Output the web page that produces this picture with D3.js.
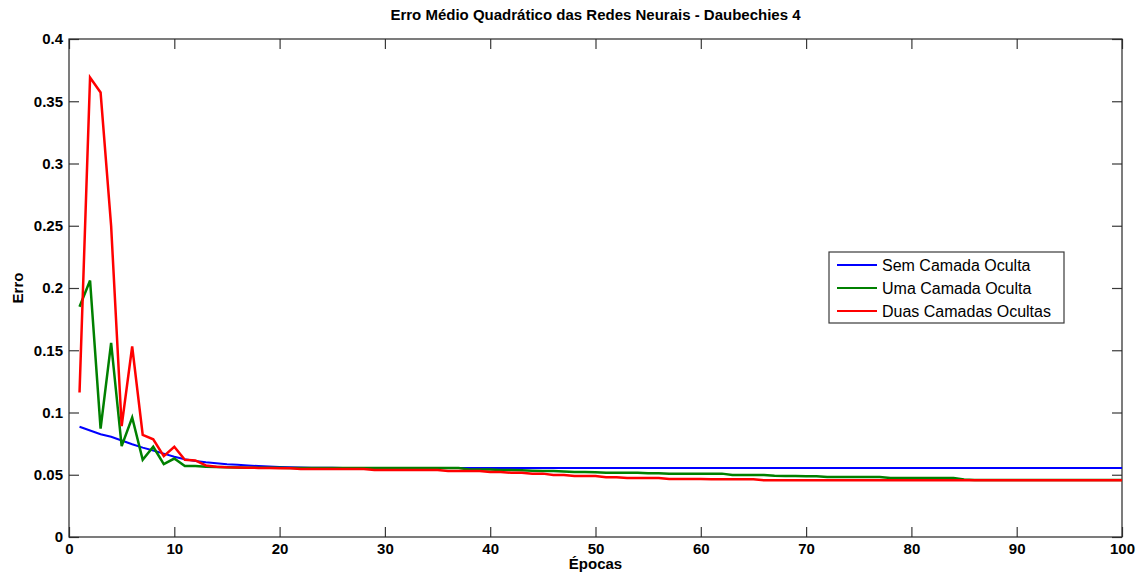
<!DOCTYPE html>
<html>
<head>
<meta charset="utf-8">
<script src="https://cdn.jsdelivr.net/npm/d3@7"></script>
<style>
  body { margin: 0; background: #fff; }
  text { font-family: "Liberation Sans", Arial, sans-serif; }
</style>
</head>
<body>
<div id="chart"></div>
<script>
// data
var epocas = d3.range(1, 101);

var semCamada = [
  0.0886, 0.0855, 0.0825, 0.0805, 0.0775, 0.0745, 0.0718, 0.0695, 0.0670, 0.0645,
  0.0625, 0.0610, 0.0600, 0.0592, 0.0585, 0.0580, 0.0575, 0.0570, 0.0566, 0.0563,
  0.0560, 0.0558, 0.0557, 0.0556, 0.0556, 0.0555, 0.0555, 0.0555, 0.0555, 0.0555,
  0.0555, 0.0555, 0.0555, 0.0555, 0.0555, 0.0555, 0.0555, 0.0555, 0.0555, 0.0555,
  0.0555, 0.0555, 0.0555, 0.0555, 0.0555, 0.0555, 0.0555, 0.0555, 0.0555, 0.0555,
  0.0555, 0.0555, 0.0555, 0.0555, 0.0555, 0.0555, 0.0555, 0.0555, 0.0555, 0.0555,
  0.0555, 0.0555, 0.0555, 0.0555, 0.0555, 0.0555, 0.0555, 0.0555, 0.0555, 0.0555,
  0.0555, 0.0555, 0.0555, 0.0555, 0.0555, 0.0555, 0.0555, 0.0555, 0.0555, 0.0555,
  0.0555, 0.0555, 0.0555, 0.0555, 0.0555, 0.0555, 0.0555, 0.0555, 0.0555, 0.0555,
  0.0555, 0.0555, 0.0555, 0.0555, 0.0555, 0.0555, 0.0555, 0.0555, 0.0555, 0.0554
];

var umaCamada = [
  0.185, 0.206, 0.087, 0.156, 0.073, 0.096, 0.062, 0.0725, 0.0585, 0.063,
  0.057, 0.057, 0.0565, 0.0562, 0.056, 0.0558, 0.0557, 0.0556, 0.0556, 0.0556,
  0.0555, 0.0555, 0.0555, 0.0555, 0.0555, 0.0555, 0.0555, 0.0555, 0.0555, 0.0555,
  0.0554, 0.0554, 0.0554, 0.0554, 0.0554, 0.0554, 0.0554, 0.0543, 0.0543, 0.0543,
  0.0538, 0.0538, 0.0536, 0.0533, 0.0530, 0.0530, 0.0526, 0.0522, 0.0522, 0.0520,
  0.0516, 0.0516, 0.0516, 0.0516, 0.0512, 0.0512, 0.0509, 0.0509, 0.0509, 0.0509,
  0.0509, 0.0509, 0.0498, 0.0498, 0.0498, 0.0498, 0.0492, 0.0490, 0.0490, 0.0487,
  0.0487, 0.0482, 0.0482, 0.0482, 0.0482, 0.0482, 0.0482, 0.0474, 0.0474, 0.0474,
  0.0474, 0.0474, 0.0474, 0.0474, 0.0462, 0.0458, 0.0457, 0.0457, 0.0457, 0.0457,
  0.0457, 0.0457, 0.0457, 0.0457, 0.0457, 0.0457, 0.0457, 0.0457, 0.0457, 0.0457
];

var duasCamadas = [
  0.116, 0.369, 0.357, 0.250, 0.089, 0.153, 0.082, 0.0785, 0.065, 0.0725,
  0.062, 0.0615, 0.0575, 0.0565, 0.056, 0.0558, 0.0556, 0.0555, 0.0554, 0.0553,
  0.0552, 0.0546, 0.0546, 0.0546, 0.0546, 0.0546, 0.0546, 0.0546, 0.0538, 0.0538,
  0.0538, 0.0538, 0.0538, 0.0538, 0.0538, 0.0530, 0.0530, 0.0530, 0.0530, 0.0522,
  0.0522, 0.0516, 0.0516, 0.0509, 0.0509, 0.0498, 0.0498, 0.0490, 0.0490, 0.0490,
  0.0480, 0.0480, 0.0474, 0.0474, 0.0474, 0.0474, 0.0466, 0.0466, 0.0466, 0.0466,
  0.0463, 0.0463, 0.0463, 0.0463, 0.0463, 0.0455, 0.0455, 0.0455, 0.0455, 0.0455,
  0.0455, 0.0455, 0.0455, 0.0455, 0.0455, 0.0455, 0.0455, 0.0455, 0.0455, 0.0455,
  0.0455, 0.0455, 0.0455, 0.0455, 0.0455, 0.0455, 0.0455, 0.0455, 0.0455, 0.0455,
  0.0455, 0.0455, 0.0455, 0.0455, 0.0455, 0.0455, 0.0455, 0.0455, 0.0455, 0.0455
];

var seriesNames = ["Sem Camada Oculta", "Uma Camada Oculta", "Duas Camadas Ocultas"];
var seriesColors = ["#0000ff", "#008000", "#ff0000"];
var xTicks = [0, 10, 20, 30, 40, 50, 60, 70, 80, 90, 100];
var yTicks = [0, 0.05, 0.1, 0.15, 0.2, 0.25, 0.3, 0.35, 0.4];

// set the dimensions and margins of the graph
var margin = {top: 39, right: 15, bottom: 41, left: 69},
    width = 1137 - margin.left - margin.right,
    height = 578 - margin.top - margin.bottom;

var svg = d3.select("#chart")
  .append("svg")
    .attr("width", width + margin.left + margin.right)
    .attr("height", height + margin.top + margin.bottom)
  .append("g")
    .attr("transform", "translate(" + margin.left + "," + margin.top + ")");

var x = d3.scaleLinear().domain([0, 100]).range([0, width]);
var y = d3.scaleLinear().domain([0, 0.4]).range([height, 0]);

// white box
svg.append("rect")
  .attr("width", width)
  .attr("height", height)
  .attr("fill", "#fff");

// axes, ticks pointing inward, mirrored on top/right
function styleAxis(g) {
  g.select(".domain").remove();
  g.selectAll(".tick line").attr("stroke", "#3a3a3a").attr("stroke-width", 1.2);
  g.selectAll(".tick text")
    .attr("fill", "#000")
    .style("font-size", "15px")
    .style("font-weight", "bold");
}

svg.append("g")
  .attr("transform", "translate(0," + height + ")")
  .call(d3.axisBottom(x).tickValues(xTicks).tickSize(-10).tickPadding(6).tickFormat(d3.format("d")))
  .call(styleAxis);

svg.append("g")
  .call(d3.axisLeft(y).tickValues(yTicks).tickSize(-10).tickPadding(6).tickFormat(function (d) { return d3.format("~g")(d); }))
  .call(styleAxis);

svg.append("g")
  .call(d3.axisTop(x).tickValues(xTicks).tickSize(-10).tickFormat(""))
  .call(styleAxis);

svg.append("g")
  .attr("transform", "translate(" + width + ",0)")
  .call(d3.axisRight(y).tickValues(yTicks).tickSize(-10).tickFormat(""))
  .call(styleAxis);

svg.append("rect")
  .attr("width", width)
  .attr("height", height)
  .attr("fill", "none")
  .attr("stroke", "#262626")
  .attr("stroke-width", 1.2);

// lines
var allSeries = [semCamada, umaCamada, duasCamadas];
var line = d3.line()
  .x(function (d, i) { return x(epocas[i]); })
  .y(function (d) { return y(d); });

svg.append("g")
  .selectAll("path")
  .data(allSeries)
  .enter()
  .append("path")
    .attr("d", line)
    .attr("fill", "none")
    .attr("stroke", function (d, i) { return seriesColors[i]; })
    .attr("stroke-width", function (d, i) { return i === 0 ? 2 : 2.5; })
    .attr("stroke-linejoin", "miter");

// title and axis labels
svg.append("text")
  .attr("x", width / 2)
  .attr("y", -19)
  .attr("text-anchor", "middle")
  .style("font-size", "15px")
  .style("font-weight", "bold")
  .text("Erro Médio Quadrático das Redes Neurais - Daubechies 4");

svg.append("text")
  .attr("x", width / 2)
  .attr("y", height + 32)
  .attr("text-anchor", "middle")
  .style("font-size", "15px")
  .style("font-weight", "bold")
  .text("Épocas");

svg.append("text")
  .attr("transform", "rotate(-90)")
  .attr("x", -height / 2)
  .attr("y", -46)
  .attr("text-anchor", "middle")
  .style("font-size", "15px")
  .style("font-weight", "bold")
  .text("Erro");

// legend
var legend = svg.append("g")
  .attr("transform", "translate(" + (829 - margin.left) + "," + (252 - margin.top) + ")");

legend.append("rect")
  .attr("width", 235)
  .attr("height", 71)
  .attr("fill", "#fff")
  .attr("stroke", "#3a3a3a")
  .attr("stroke-width", 1.2);

var items = legend.selectAll(".item")
  .data(seriesNames)
  .enter()
  .append("g")
    .attr("transform", function (d, i) { return "translate(0," + (13 + i * 23) + ")"; });

items.append("line")
  .attr("x1", 8)
  .attr("x2", 48)
  .attr("stroke", function (d, i) { return seriesColors[i]; })
  .attr("stroke-width", 2);

items.append("text")
  .attr("x", 53)
  .attr("dy", "0.36em")
  .style("font-size", "16px")
  .text(function (d) { return d; });
</script>
</body>
</html>
